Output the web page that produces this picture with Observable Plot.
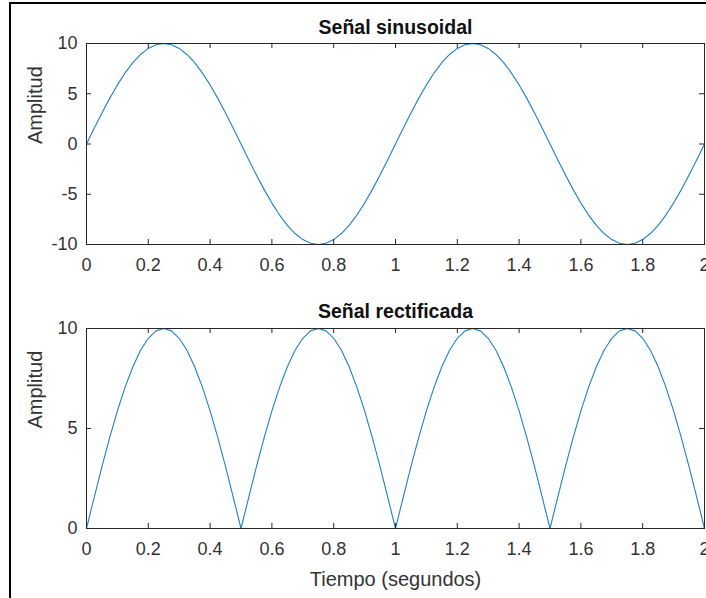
<!DOCTYPE html>
<html>
<head>
<meta charset="utf-8">
<script src="https://cdn.jsdelivr.net/npm/d3@7"></script>
<script src="https://cdn.jsdelivr.net/npm/@observablehq/plot@0.6"></script>
<style>
  html, body { margin: 0; padding: 0; background: #fff; overflow: hidden; }
  #wrap { position: relative; width: 706px; height: 598px; overflow: hidden; background: #fff; }
  #wrap svg { position: absolute; left: 0; font-family: "Liberation Sans", Arial, Helvetica, sans-serif; background: #fff; }
  #border { position: absolute; left: 9px; top: 2px; width: 710px; height: 610px; border-left: 2px solid #000; border-top: 2px solid #000; pointer-events: none; }
</style>
</head>
<body>
<div id="wrap"><div id="border"></div></div>
<script>
// Time samples (seconds)
const time = [0,0.025,0.05,0.075,0.1,0.125,0.15,0.175,0.2,0.225,0.25,0.275,0.3,0.325,0.35,0.375,0.4,0.425,0.45,0.475,0.5,0.525,0.55,0.575,0.6,0.625,0.65,0.675,0.7,0.725,0.75,0.775,0.8,0.825,0.85,0.875,0.9,0.925,0.95,0.975,1,1.025,1.05,1.075,1.1,1.125,1.15,1.175,1.2,1.225,1.25,1.275,1.3,1.325,1.35,1.375,1.4,1.425,1.45,1.475,1.5,1.525,1.55,1.575,1.6,1.625,1.65,1.675,1.7,1.725,1.75,1.775,1.8,1.825,1.85,1.875,1.9,1.925,1.95,1.975,2];
// Señal sinusoidal (amplitude)
const sinusoidal = [0,1.56,3.09,4.54,5.88,7.07,8.09,8.91,9.51,9.88,10,9.88,9.51,8.91,8.09,7.07,5.88,4.54,3.09,1.56,0,-1.56,-3.09,-4.54,-5.88,-7.07,-8.09,-8.91,-9.51,-9.88,-10,-9.88,-9.51,-8.91,-8.09,-7.07,-5.88,-4.54,-3.09,-1.56,0,1.56,3.09,4.54,5.88,7.07,8.09,8.91,9.51,9.88,10,9.88,9.51,8.91,8.09,7.07,5.88,4.54,3.09,1.56,0,-1.56,-3.09,-4.54,-5.88,-7.07,-8.09,-8.91,-9.51,-9.88,-10,-9.88,-9.51,-8.91,-8.09,-7.07,-5.88,-4.54,-3.09,-1.56,0];
// Señal rectificada
const rectificada = [0,1.56,3.09,4.54,5.88,7.07,8.09,8.91,9.51,9.88,10,9.88,9.51,8.91,8.09,7.07,5.88,4.54,3.09,1.56,0,1.56,3.09,4.54,5.88,7.07,8.09,8.91,9.51,9.88,10,9.88,9.51,8.91,8.09,7.07,5.88,4.54,3.09,1.56,0,1.56,3.09,4.54,5.88,7.07,8.09,8.91,9.51,9.88,10,9.88,9.51,8.91,8.09,7.07,5.88,4.54,3.09,1.56,0,1.56,3.09,4.54,5.88,7.07,8.09,8.91,9.51,9.88,10,9.88,9.51,8.91,8.09,7.07,5.88,4.54,3.09,1.56,0];

const xTicks = [0,0.2,0.4,0.6,0.8,1,1.2,1.4,1.6,1.8,2];
const xTickLabels = ["0","0.2","0.4","0.6","0.8","1","1.2","1.4","1.6","1.8","2"];
const yTicksTop = [-10,-5,0,5,10];
const yTickLabelsTop = ["-10","-5","0","5","10"];
const yTicksBottom = [0,5,10];
const yTickLabelsBottom = ["0","5","10"];

const titles = ["Señal sinusoidal", "Señal rectificada"];
const yLabel = "Amplitud";
const xLabel = "Tiempo (segundos)";

const ink = "#262626";
const lineColor = "#1f80c6";
const tickLen = 5;

function panel({values, yDomain, yTicks, yTickLabels, title, height, marginTop, marginBottom, titleDy, withXLabel}) {
  const [x0, x1] = [xTicks[0], xTicks[xTicks.length - 1]];
  const [y0, y1] = yDomain;
  const marks = [
    Plot.line(values, {x: time, y: values, stroke: lineColor, strokeWidth: 1.1}),
    // inward ticks on all four sides (zero-length rules extended by negative insets)
    Plot.ruleX(xTicks, {x: d => d, y1: y0, y2: y0, insetTop: -tickLen, stroke: ink}),
    Plot.ruleX(xTicks, {x: d => d, y1: y1, y2: y1, insetBottom: -tickLen, stroke: ink}),
    Plot.ruleY(yTicks, {y: d => d, x1: x0, x2: x0, insetRight: -tickLen, stroke: ink}),
    Plot.ruleY(yTicks, {y: d => d, x1: x1, x2: x1, insetLeft: -tickLen, stroke: ink}),
    Plot.frame({stroke: ink, strokeWidth: 1}),
    // tick labels
    Plot.axisX(xTicks, {anchor: "bottom", tickSize: 0, tickPadding: 14, fontSize: 18, fill: "#333", label: null,
      tickFormat: (d) => xTickLabels[xTicks.indexOf(d)]}),
    Plot.axisY(yTicks, {anchor: "left", tickSize: 0, tickPadding: 9, fontSize: 18, fill: "#333", label: null,
      tickFormat: (d) => yTickLabels[yTicks.indexOf(d)]}),
    Plot.text([title], {frameAnchor: "top", lineAnchor: "bottom", dy: titleDy, fontSize: 19.5, fontWeight: "bold", fill: "#111"}),
    Plot.text([yLabel], {frameAnchor: "left", rotate: -90, dx: -51, fontSize: 20, fill: "#333"})
  ];
  if (withXLabel) {
    marks.push(Plot.text([xLabel], {frameAnchor: "bottom", lineAnchor: "bottom", dy: 57, fontSize: 20, fill: "#333"}));
  }
  return Plot.plot({
    width: 706,
    height,
    marginLeft: 86,
    marginRight: 2,
    marginTop,
    marginBottom,
    style: {fontFamily: '"Liberation Sans", Arial, Helvetica, sans-serif', background: "#fff", overflow: "hidden"},
    x: {domain: [0, 2], axis: null},
    y: {domain: yDomain, axis: null},
    marks
  });
}

const topPanel = panel({values: sinusoidal, yDomain: [-10, 10], yTicks: yTicksTop, yTickLabels: yTickLabelsTop,
  title: titles[0], height: 290, marginTop: 43, marginBottom: 46, titleDy: -10, withXLabel: false});
topPanel.style.top = "0px";
const bottomPanel = panel({values: rectificada, yDomain: [0, 10], yTicks: yTicksBottom, yTickLabels: yTickLabelsBottom,
  title: titles[1], height: 308, marginTop: 38, marginBottom: 70, titleDy: -11, withXLabel: true});
bottomPanel.style.top = "290px";
const wrap = document.getElementById("wrap");
const borderEl = document.getElementById("border");
wrap.insertBefore(topPanel, borderEl);
wrap.insertBefore(bottomPanel, borderEl);
</script>
</body>
</html>
